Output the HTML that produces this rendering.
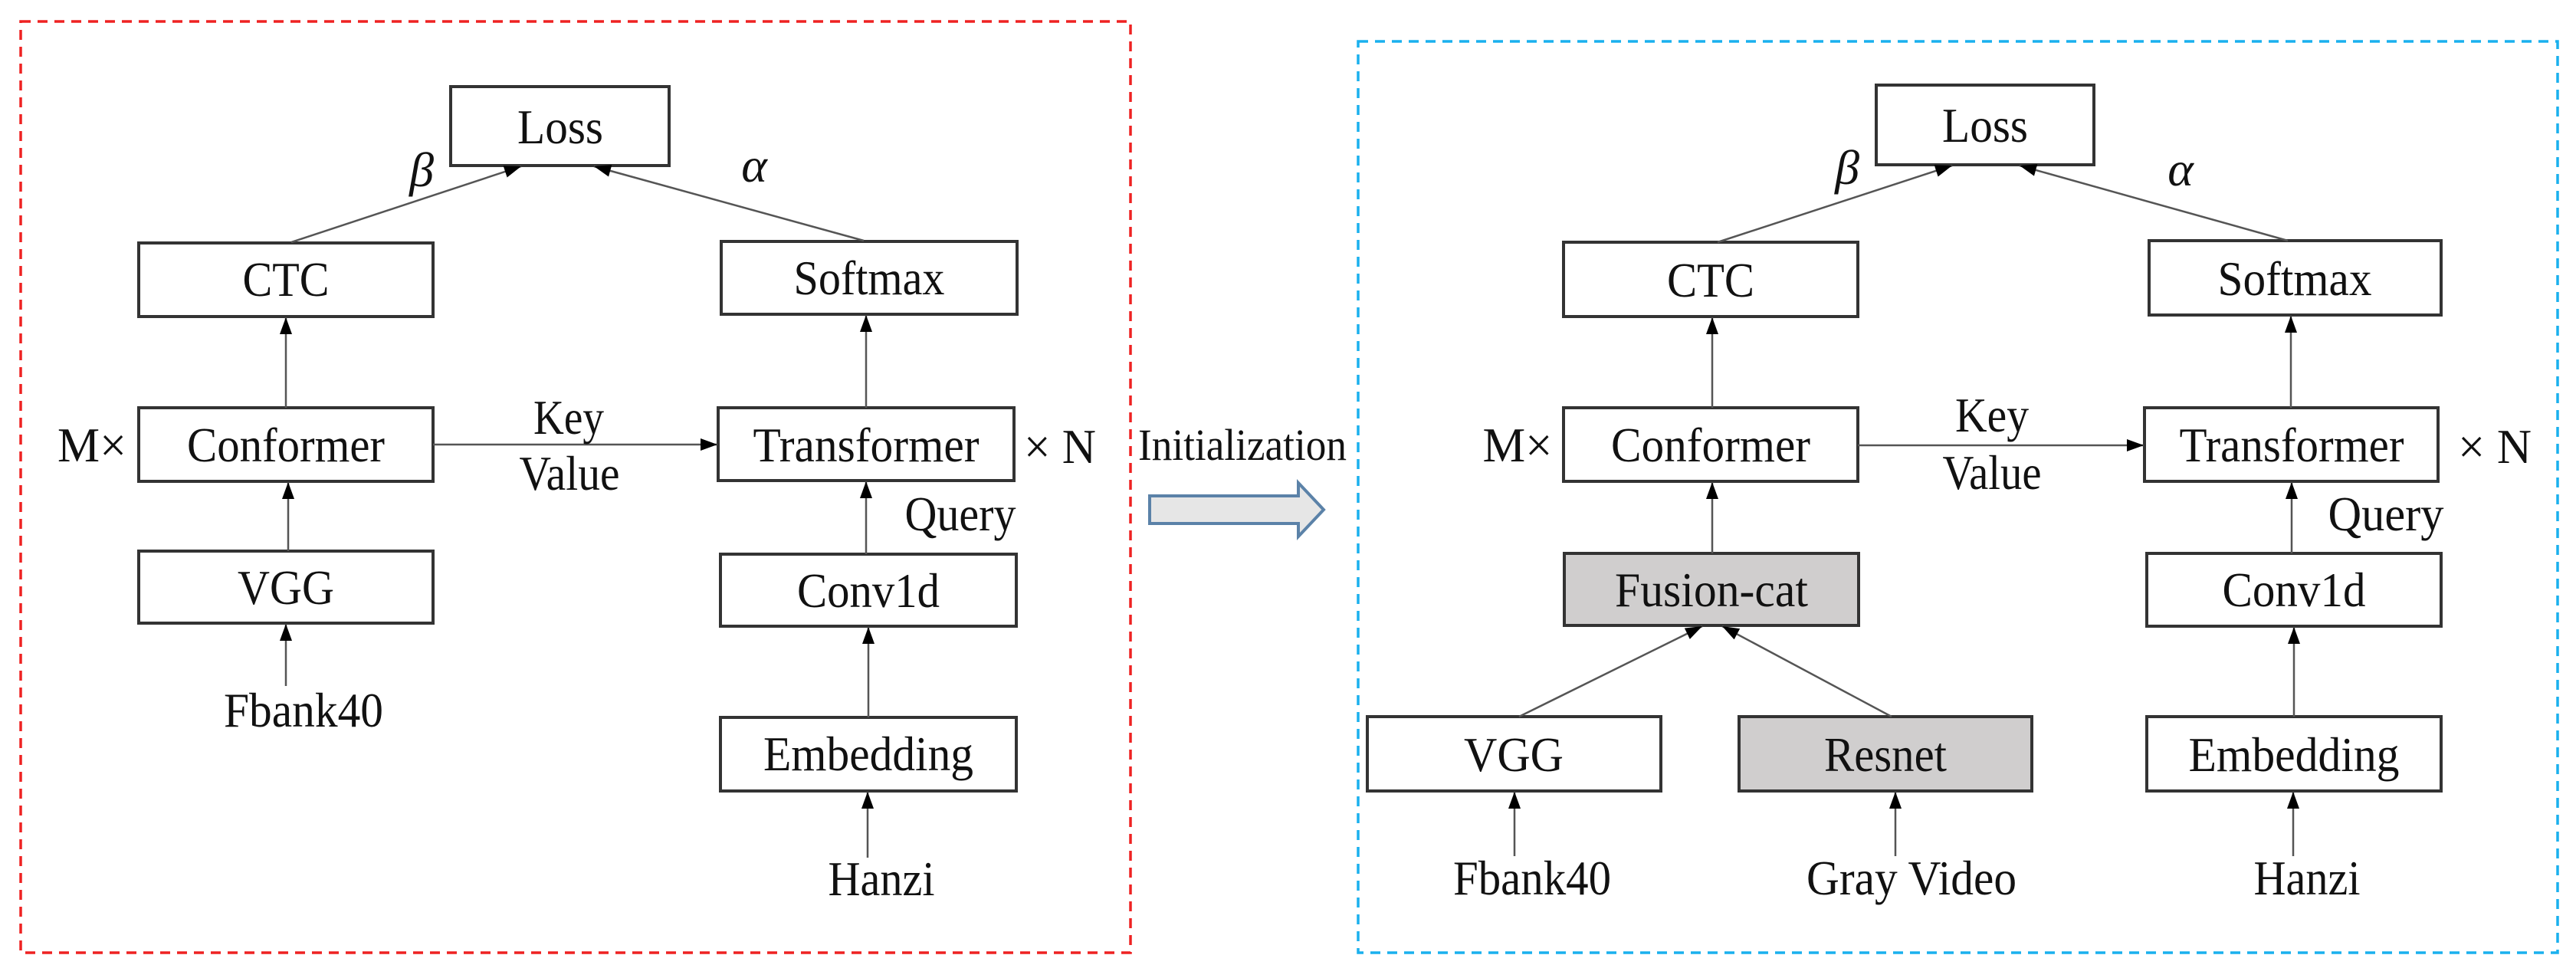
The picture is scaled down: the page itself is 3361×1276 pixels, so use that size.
<!DOCTYPE html>
<html><head><meta charset="utf-8"><style>
html,body{margin:0;padding:0;background:#fff;}
svg{display:block;}
svg text{font-family:"Liberation Serif","DejaVu Serif",serif;fill:#111;}
</style></head><body>
<svg width="3361" height="1276" viewBox="0 0 3361 1276" xmlns="http://www.w3.org/2000/svg" font-family="Liberation Serif, DejaVu Serif, serif">
<defs>
<marker id="ah" markerUnits="userSpaceOnUse" markerWidth="24" markerHeight="18" refX="22" refY="9" orient="auto">
<path d="M0,1 L22,9 L0,17 Z" fill="#000"/>
</marker>
</defs>
<rect x="27" y="28" width="1448" height="1215" fill="none" stroke="#ee2222" stroke-width="3.5" stroke-dasharray="13,9"/>
<rect x="1772" y="54" width="1565" height="1189" fill="none" stroke="#1ab0ee" stroke-width="3.5" stroke-dasharray="13,9"/>

<g fill="#fff" stroke="#333" stroke-width="4">
<rect x="588" y="113" width="285" height="103"/>
<rect x="181" y="317" width="384" height="96"/>
<rect x="941" y="315" width="386" height="95"/>
<rect x="181" y="532" width="384" height="96"/>
<rect x="937" y="532" width="386" height="95"/>
<rect x="181" y="719" width="384" height="94"/>
<rect x="940" y="723" width="386" height="94"/>
<rect x="940" y="936" width="386" height="96"/>
<rect x="2448" y="111" width="284" height="104"/>
<rect x="2040" y="316" width="384" height="97"/>
<rect x="2804" y="314" width="381" height="97"/>
<rect x="2040" y="532" width="384" height="96"/>
<rect x="2798" y="532" width="383" height="96"/>
<rect x="2041" y="722" width="384" height="94" fill="#d0cece"/>
<rect x="2801" y="722" width="384" height="95"/>
<rect x="1784" y="935" width="383" height="97"/>
<rect x="2269" y="935" width="382" height="97" fill="#d0cece"/>
<rect x="2801" y="935" width="384" height="97"/>
</g>

<g stroke="#555" stroke-width="2.5" fill="none" marker-end="url(#ah)">
<line x1="380" y1="316" x2="680" y2="217"/>
<line x1="1127" y1="314" x2="775" y2="217"/>
<line x1="373" y1="532" x2="373" y2="414"/>
<line x1="376" y1="719" x2="376" y2="629"/>
<line x1="373" y1="895" x2="373" y2="814"/>
<line x1="565" y1="580" x2="936" y2="580"/>
<line x1="1130" y1="532" x2="1130" y2="411"/>
<line x1="1130" y1="723" x2="1130" y2="628"/>
<line x1="1133" y1="936" x2="1133" y2="818"/>
<line x1="1132" y1="1119" x2="1132" y2="1033"/>

<line x1="2241" y1="316" x2="2547" y2="216"/>
<line x1="2985" y1="314" x2="2635" y2="216"/>
<line x1="2234" y1="532" x2="2234" y2="414"/>
<line x1="2234" y1="722" x2="2234" y2="629"/>
<line x1="1982" y1="935" x2="2221" y2="817"/>
<line x1="2468" y1="935" x2="2247" y2="817"/>
<line x1="1976" y1="1117" x2="1976" y2="1033"/>
<line x1="2473" y1="1117" x2="2473" y2="1033"/>
<line x1="2424" y1="581" x2="2797" y2="581"/>
<line x1="2989" y1="532" x2="2989" y2="412"/>
<line x1="2990" y1="722" x2="2990" y2="629"/>
<line x1="2993" y1="935" x2="2993" y2="818"/>
<line x1="2992" y1="1117" x2="2992" y2="1033"/>
</g>

<path d="M1500,647 L1694,647 L1694,630 L1727,665 L1694,700 L1694,683 L1500,683 Z" fill="#e6e6e6" stroke="#5b82a8" stroke-width="4"/>
<text x="1485" y="600" font-size="58" textLength="272" lengthAdjust="spacingAndGlyphs">Initialization</text>

<g font-size="64" text-anchor="middle">
<text x="731" y="187" textLength="112" lengthAdjust="spacingAndGlyphs">Loss</text>
<text x="373" y="386" textLength="113" lengthAdjust="spacingAndGlyphs">CTC</text>
<text x="1134" y="384" textLength="197" lengthAdjust="spacingAndGlyphs">Softmax</text>
<text x="373" y="602" textLength="258" lengthAdjust="spacingAndGlyphs">Conformer</text>
<text x="1130" y="602" textLength="295" lengthAdjust="spacingAndGlyphs">Transformer</text>
<text x="373" y="788" textLength="126" lengthAdjust="spacingAndGlyphs">VGG</text>
<text x="1133" y="792" textLength="186" lengthAdjust="spacingAndGlyphs">Conv1d</text>
<text x="1133" y="1005" textLength="274" lengthAdjust="spacingAndGlyphs">Embedding</text>
<text x="396" y="948" textLength="208" lengthAdjust="spacingAndGlyphs">Fbank40</text>
<text x="1150" y="1168" textLength="139" lengthAdjust="spacingAndGlyphs">Hanzi</text>
<text x="742" y="566" textLength="92" lengthAdjust="spacingAndGlyphs">Key</text>
<text x="743" y="639" textLength="131" lengthAdjust="spacingAndGlyphs">Value</text>
<text x="1253" y="692" textLength="145" lengthAdjust="spacingAndGlyphs">Query</text>
<text x="120" y="602" textLength="90" lengthAdjust="spacingAndGlyphs">M×</text>
<text x="1383" y="604" textLength="94" lengthAdjust="spacingAndGlyphs">× N</text>
<text x="550" y="243" font-style="italic">β</text>
<text x="984" y="237" font-style="italic">α</text>

<text x="2590" y="185" textLength="112" lengthAdjust="spacingAndGlyphs">Loss</text>
<text x="2232" y="387" textLength="114" lengthAdjust="spacingAndGlyphs">CTC</text>
<text x="2994" y="385" textLength="201" lengthAdjust="spacingAndGlyphs">Softmax</text>
<text x="2232" y="602" textLength="260" lengthAdjust="spacingAndGlyphs">Conformer</text>
<text x="2990" y="602" textLength="293" lengthAdjust="spacingAndGlyphs">Transformer</text>
<text x="2233" y="791" textLength="252" lengthAdjust="spacingAndGlyphs">Fusion-cat</text>
<text x="2993" y="791" textLength="187" lengthAdjust="spacingAndGlyphs">Conv1d</text>
<text x="1975" y="1006" textLength="130" lengthAdjust="spacingAndGlyphs">VGG</text>
<text x="2460" y="1006" textLength="160" lengthAdjust="spacingAndGlyphs">Resnet</text>
<text x="2993" y="1006" textLength="275" lengthAdjust="spacingAndGlyphs">Embedding</text>
<text x="1999" y="1167" textLength="206" lengthAdjust="spacingAndGlyphs">Fbank40</text>
<text x="2494" y="1167" textLength="274" lengthAdjust="spacingAndGlyphs">Gray Video</text>
<text x="3010" y="1167" textLength="139" lengthAdjust="spacingAndGlyphs">Hanzi</text>
<text x="2599" y="563" textLength="96" lengthAdjust="spacingAndGlyphs">Key</text>
<text x="2599" y="638" textLength="129" lengthAdjust="spacingAndGlyphs">Value</text>
<text x="3113" y="692" textLength="151" lengthAdjust="spacingAndGlyphs">Query</text>
<text x="1980" y="602" textLength="91" lengthAdjust="spacingAndGlyphs">M×</text>
<text x="3255" y="604" textLength="96" lengthAdjust="spacingAndGlyphs">× N</text>
<text x="2410" y="240" font-style="italic">β</text>
<text x="2845" y="242" font-style="italic">α</text>
</g>
</svg>
</body></html>
